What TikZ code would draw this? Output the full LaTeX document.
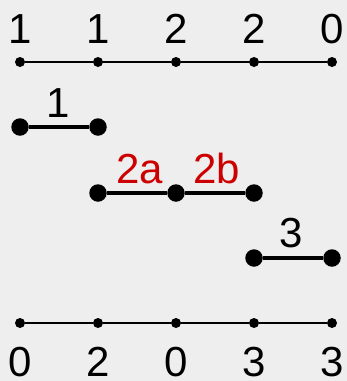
\documentclass[tikz,border=0pt]{standalone}
\usepackage{fontspec}
\setmainfont{Liberation Sans}
\definecolor{bg}{HTML}{EEEEEE}
\definecolor{redlab}{HTML}{CC0000}
\begin{document}
\begin{tikzpicture}[x=1pt,y=-1pt,
  sdot/.style={circle,fill=black,inner sep=0pt,minimum size=10pt},
  bdot/.style={circle,fill=black,inner sep=0pt,minimum size=17.5pt},
  thinline/.style={line width=2pt},
  thickline/.style={line width=4.5pt},
  lab/.style={anchor=base,inner sep=0pt,text depth=0pt,font=\fontsize{42}{42}\selectfont},
  redl/.style={lab,text=redlab}]
\fill[bg] (0,0) rectangle (347,381);
\useasboundingbox (0,0) rectangle (347,381);
% top line
\foreach \i/\x/\t in {1/20/1,2/98/1,3/176/2,4/254/2,5/332/0}{
  \node[sdot] (t\i) at (\x,62) {};
  \node[lab] (tl\i) at (\x,43) {\t};
}
\draw[thinline] (t1) -- (t2) -- (t3) -- (t4) -- (t5);
% segment 1
\node[bdot] (a1) at (20,127) {};
\node[bdot] (a2) at (98,127) {};
\draw[thickline] (a1) -- (a2);
\node[lab] (la) at (58,117) {1};
% segment 2
\node[bdot] (b1) at (98,193) {};
\node[bdot] (b2) at (176,193) {};
\node[bdot] (b3) at (254,193) {};
\draw[thickline] (b1) -- (b2) -- (b3);
\node[redl] (lb1) at (140,183) {2a};
\node[redl] (lb2) at (217,183) {2b};
% segment 3
\node[bdot] (c1) at (254,258) {};
\node[bdot] (c2) at (332,258) {};
\draw[thickline] (c1) -- (c2);
\node[lab] (lc) at (291,247) {3};
% bottom line
\foreach \i/\x/\t in {1/20/0,2/98/2,3/176/0,4/254/3,5/332/3}{
  \node[sdot] (u\i) at (\x,323) {};
  \node[lab] (ul\i) at (\x,376) {\t};
}
\draw[thinline] (u1) -- (u2) -- (u3) -- (u4) -- (u5);
\end{tikzpicture}
\end{document}
